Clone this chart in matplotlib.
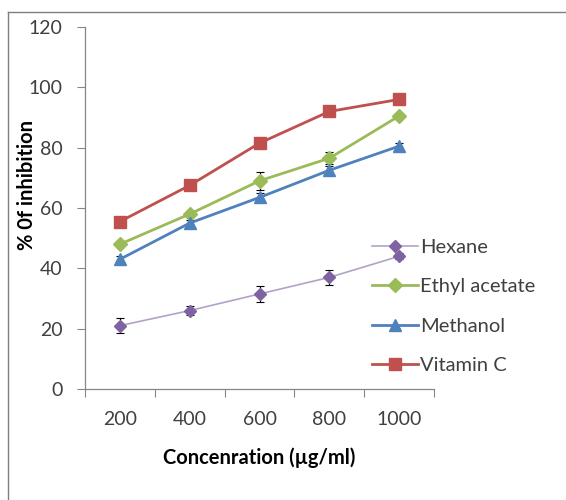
import matplotlib
matplotlib.use("Agg")
import matplotlib.pyplot as plt
from matplotlib.lines import Line2D

concentrations = ["200", "400", "600", "800", "1000"]
hexane = [21, 26, 31.5, 37, 44]
hexane_err = [2.5, 1.5, 2.5, 2.5, 1.0]
ethyl = [48, 58, 69, 76.5, 90.5]
ethyl_err = [1.0, 1.0, 3.0, 2.0, 1.0]
methanol = [43, 55, 63.5, 72.5, 80.5]
methanol_err = [1.0, 1.0, 1.5, 1.5, 1.0]
vitc = [55.5, 67.5, 81.5, 92, 96]
vitc_err = [0.5, 0.5, 0.5, 0.5, 0.5]
yticks = [0, 20, 40, 60, 80, 100, 120]

plt.rcParams['font.family'] = ['Lato', 'DejaVu Sans']

fig = plt.figure(figsize=(5.66, 5.0), dpi=100)
ax = fig.add_axes([85/566, 1-389/500, (434-85)/566, (389-27)/500])

x = list(range(len(concentrations)))
series = [
    ("Hexane", hexane, hexane_err, "#B3A2C7", "#7E62A1", "D", 6.5, 1.2),
    ("Ethyl acetate", ethyl, ethyl_err, "#9BBB59", "#9BBB59", "D", 7, 2.0),
    ("Methanol", methanol, methanol_err, "#4F81BD", "#4F81BD", "^", 8.5, 2.0),
    ("Vitamin C", vitc, vitc_err, "#C0504D", "#C0504D", "s", 8.5, 2.0),
]
handles = []
for name, vals, err, lc, mc, mk, ms, lw in series:
    ax.errorbar(x, vals, yerr=err, fmt='none', ecolor='black', elinewidth=0.8,
                capsize=3, capthick=0.8, zorder=2)
    h, = ax.plot(x, vals, color=lc, lw=lw, marker=mk, markersize=ms,
                 markerfacecolor=mc, markeredgecolor=mc, label=name, zorder=3)
    handles.append(h)

ax.set_xlim(-0.5, 4.5)
ax.set_ylim(0, 120)
ax.set_yticks(yticks)
ax.set_xticks([i - 0.5 for i in range(len(concentrations) + 1)])
ax.set_xticklabels([])
ax.set_xticks(x, minor=True)
ax.set_xticklabels(concentrations, minor=True)
ax.tick_params(axis='x', which='major', direction='out', length=6, color='#868686', width=0.8)
ax.tick_params(axis='x', which='minor', length=0, pad=16, labelsize=14, labelcolor='#404040')
ax.tick_params(axis='y', direction='out', length=6, color='#868686', width=0.8,
               labelsize=14, labelcolor='#404040', pad=10)
for s in ['top', 'right']:
    ax.spines[s].set_visible(False)
for s in ['left', 'bottom']:
    ax.spines[s].set_color('#868686')
    ax.spines[s].set_linewidth(0.9)

ax.set_ylabel("% 0f inhibition", fontsize=14.5, fontweight='bold', color='black')
ax.yaxis.set_label_coords(-0.138, 0.564)
ax.set_xlabel("Concenration (µg/ml)", fontsize=14.5, fontweight='bold', color='black', labelpad=14)

leg = fig.legend(handles=handles, loc='upper left', bbox_to_anchor=(364/566, 1-231/500),
                 frameon=False, fontsize=14.5, labelspacing=1.1, handlelength=2.3,
                 handletextpad=0.1, borderaxespad=0)
for t in leg.get_texts():
    t.set_color('#404040')

# outer frame
fig.add_artist(Line2D([8/566, 8/566], [0, 1-12/500], transform=fig.transFigure, color='#7F7F7F', lw=1.0))
fig.add_artist(Line2D([8/566, 1], [1-12/500, 1-12/500], transform=fig.transFigure, color='#7F7F7F', lw=1.0))

fig.savefig("out.png", dpi=100)
